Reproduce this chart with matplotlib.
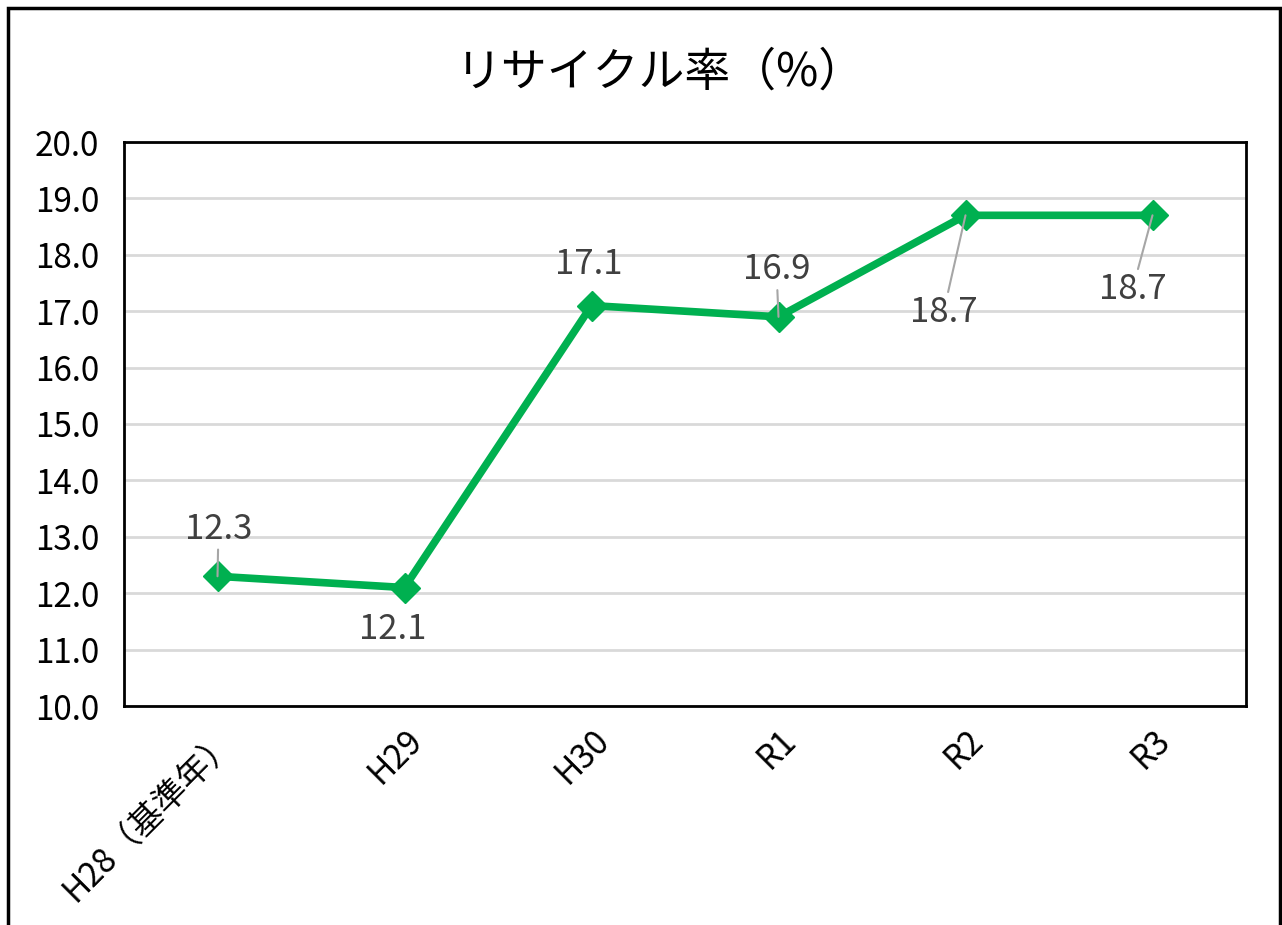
import matplotlib.pyplot as plt
from matplotlib.patches import Rectangle

plt.rcParams['font.family'] = ['Noto Sans CJK JP', 'DejaVu Sans']

# --- data ---
categories = ['H28（基準年）', 'H29', 'H30', 'R1', 'R2', 'R3']
rates = [12.3, 12.1, 17.1, 16.9, 18.7, 18.7]

# label offsets in pixels (dx, dy) and whether a leader line is drawn
label_offsets = [(1, 47), (-12, -42), (-3, 41), (-2, 47), (-22, -97), (-20, -74)]
leader = [True, False, False, True, True, True]

fig = plt.figure(figsize=(12.82, 9.25), dpi=100)
ax = fig.add_axes([124 / 1282, 1 - 706 / 925, 1122 / 1282, 564 / 925])

x = list(range(len(categories)))
ax.plot(x, rates, color='#00B050', linewidth=5.5, marker='D', markersize=15,
        zorder=3, clip_on=False)

for i, v in enumerate(rates):
    dx, dy = label_offsets[i]
    props = None
    if leader[i]:
        props = dict(arrowstyle='-', color='#a6a6a6', lw=1.5, shrinkA=0, shrinkB=0)
    ax.annotate(f'{v:.1f}', xy=(i, v), xytext=(dx, dy), textcoords='offset pixels',
                ha='center', va='center', fontsize=25, color='#404040',
                arrowprops=props, zorder=5)

ax.set_xlim(-0.5, len(categories) - 0.5)
ax.set_ylim(10, 20)
ax.set_yticks([10 + i for i in range(11)])
ax.set_yticklabels([f'{10 + i:.1f}' for i in range(11)], fontsize=24)
ax.set_xticks(x)
ax.set_xticklabels(categories, fontsize=24, rotation=45, ha='right', va='top',
                   rotation_mode='anchor')
ax.tick_params(axis='y', length=0, pad=18)
ax.tick_params(axis='x', length=0, pad=12)
ax.grid(axis='y', color='#d9d9d9', linewidth=2)
ax.set_axisbelow(True)
for s in ax.spines.values():
    s.set_color('black')
    s.set_linewidth(2)

fig.text(0.515, 1 - 72 / 925, 'リサイクル率（%）', ha='center', va='center', fontsize=33)

# outer chart border
fig.patches.append(Rectangle((8 / 1282, -0.1), 1272 / 1282, 1.1 - 8 / 925,
                             transform=fig.transFigure, fill=False,
                             edgecolor='black', linewidth=2.5))

fig.savefig('out.png', dpi=100)
